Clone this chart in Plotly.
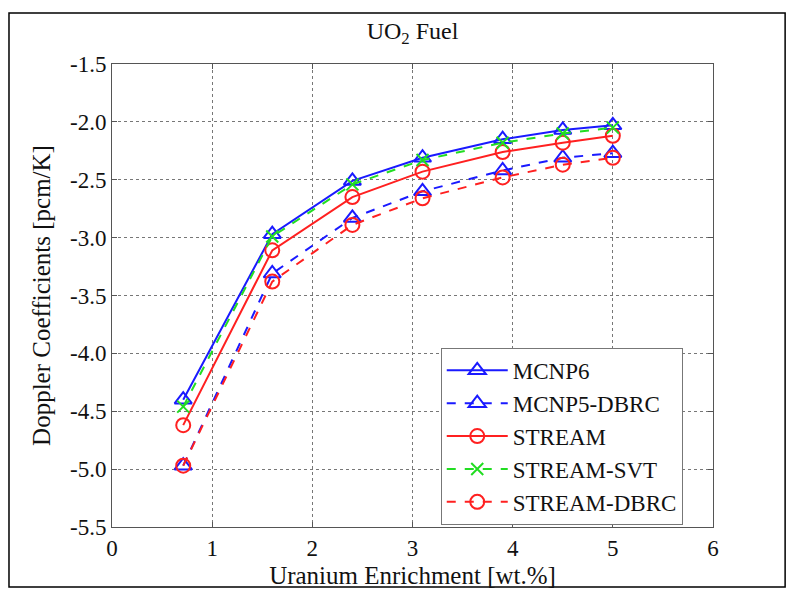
import plotly.graph_objects as go

enrichment = [0.711, 1.6, 2.4, 3.1, 3.9, 4.5, 5.0]
mcnp6 = [-4.40, -2.97, -2.51, -2.31, -2.15, -2.07, -2.03]
mcnp5_dbrc = [-4.97, -3.31, -2.83, -2.60, -2.42, -2.31, -2.27]
stream = [-4.62, -3.11, -2.65, -2.43, -2.26, -2.18, -2.12]
stream_svt = [-4.46, -2.99, -2.54, -2.33, -2.18, -2.10, -2.05]
stream_dbrc = [-4.97, -3.38, -2.89, -2.66, -2.48, -2.37, -2.31]

x_ticks = [0, 1, 2, 3, 4, 5, 6]
y_ticks = [-5.5, -5.0, -4.5, -4.0, -3.5, -3.0, -2.5, -2.0, -1.5]
y_tick_labels = ["-5.5", "-5.0", "-4.5", "-4.0", "-3.5", "-3.0", "-2.5", "-2.0", "-1.5"]

FONT = "Liberation Serif"
BLUE = "#1a1aff"
RED = "#ff2020"
GREEN = "#22dd22"

fig = go.Figure()

def add(name, y, color, dash, symbol, size=13):
    fig.add_trace(go.Scatter(
        x=enrichment, y=y, name=name, mode="lines+markers",
        line=dict(color=color, width=2, dash=dash),
        marker=dict(symbol=symbol, size=size, color=color,
                    line=dict(color=color, width=2)),
    ))

add("MCNP6", mcnp6, BLUE, "solid", "triangle-up-open", 15)
add("MCNP5-DBRC", mcnp5_dbrc, BLUE, "dash", "triangle-up-open", 15)
add("STREAM", stream, RED, "solid", "circle-open", 14)
add("STREAM-SVT", stream_svt, GREEN, "dash", "x-thin-open", 12)
add("STREAM-DBRC", stream_dbrc, RED, "dash", "circle-open", 14)

axis_common = dict(
    showline=True, linecolor="#555", linewidth=1, mirror="ticks",
    ticks="inside", ticklen=5, tickcolor="#555",
    showgrid=True, gridcolor="#777", griddash="dot", gridwidth=1,
    zeroline=False, automargin=False,
    tickfont=dict(family=FONT, size=23, color="#111"),
)

fig.update_xaxes(range=[0, 6], tickvals=x_ticks,
                 title=dict(text="Uranium Enrichment [wt.%]", font=dict(family=FONT, size=25, color="#111"), standoff=6),
                 **axis_common)
fig.update_yaxes(range=[-5.5, -1.5], tickvals=y_ticks, ticktext=y_tick_labels,
                 title=dict(text="Doppler Coefficients [pcm/K]", font=dict(family=FONT, size=25, color="#111"), standoff=12),
                 **axis_common)

fig.update_layout(
    width=788, height=588,
    margin=dict(l=104, r=83, t=56, b=69),
    paper_bgcolor="white", plot_bgcolor="white",
    title=dict(text="UO<sub>2</sub> Fuel", x=0.5, xref="paper", xanchor="center",
               y=0.962, yref="container", yanchor="middle",
               font=dict(family=FONT, size=24, color="#111")),
    showlegend=True,
    legend=dict(x=0.547, y=0.387, xanchor="left", yanchor="top",
                bgcolor="white", bordercolor="#777", borderwidth=1,
                font=dict(family=FONT, size=23, color="#111"),
                itemwidth=61, tracegroupgap=0),
    shapes=[dict(type="rect", xref="paper", yref="paper",
                 x0=-0.1714, x1=1.120, y0=-0.1296, y1=1.110,
                 line=dict(color="black", width=1.5), layer="below")],
)

fig.write_html("out.html")
